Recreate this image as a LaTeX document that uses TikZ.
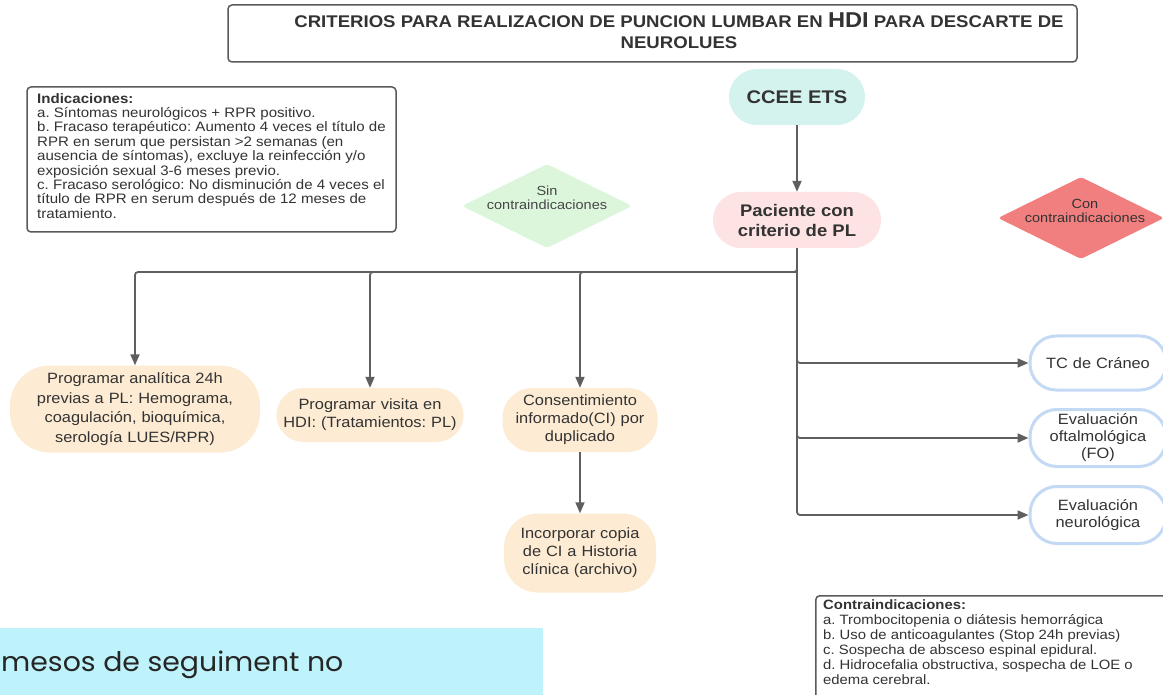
\documentclass[tikz,border=0pt]{standalone}
\usepackage{fontspec}
\setmainfont{Liberation Sans}[FakeStretch=1.1]
\newfontfamily\popfont{Poppins}[FakeStretch=1.05]
\usetikzlibrary{arrows.meta,shapes.geometric}
\frenchspacing
\definecolor{linegray}{HTML}{5F5F5F}
\definecolor{txt}{HTML}{333333}
\definecolor{cceefill}{HTML}{D4F3EE}
\definecolor{pacfill}{HTML}{FDE3E3}
\definecolor{sinfill}{HTML}{DCF6DC}
\definecolor{confill}{HTML}{F27F7F}
\definecolor{peach}{HTML}{FDEBD3}
\definecolor{bluebord}{HTML}{C4D9F4}
\definecolor{cyanbox}{HTML}{BEF3FB}
\definecolor{boxbord}{HTML}{5A5A5A}
\tikzset{
  conn/.style={draw=linegray, line width=1.8pt, rounded corners=3pt, -{Triangle[length=11pt,width=9pt]}},
  pill/.style={rectangle, rounded corners=#1, inner sep=0pt, align=center, text=txt},
  peachnode/.style={pill=#1, fill=peach},
  bluenode/.style={pill=#1, draw=bluebord, line width=3pt, fill=white},
  ntext/.style={font=\frenchspacing\fontsize{14.9}{18}\selectfont},
  dtext/.style={font=\fontsize{13.2}{14.5}\selectfont, align=center, text=txt!90},
  framebox/.style={draw=boxbord, line width=1.5pt, rounded corners=4pt, inner sep=0pt},
}
\begin{document}
\begin{tikzpicture}[x=1pt,y=-1pt]
\useasboundingbox (0,0) rectangle (1163,695);
\clip (0,0) rectangle (1163,695);
\fill[white] (0,0) rectangle (1163,695);

% title
\node[framebox, minimum width=849pt, minimum height=57pt] (titlebox) at (652.5,33.5) {};
\node[align=center, text=txt, font=\bfseries\fontsize{16.9}{21}\selectfont] (title) at (679,31)
  {CRITERIOS PARA REALIZACION DE PUNCION LUMBAR EN {\fontsize{21.5}{21}\selectfont HDI} PARA DESCARTE DE\\NEUROLUES};

% indications
\node[framebox, minimum width=369pt, minimum height=145pt] (ind) at (211.5,159.5) {};
\node[anchor=north west, align=left, inner sep=0pt, text=txt,
  font=\frenchspacing\fontsize{13.7}{14.4}\selectfont] (indtext) at (37,93)
  {\textbf{Indicaciones:}\\
   a. Síntomas neurológicos + RPR positivo.\\
   b. Fracaso terapéutico: Aumento 4 veces el título de\\
   RPR en serum que persistan >2 semanas (en\\
   ausencia de síntomas), excluye la reinfección y/o\\
   exposición sexual 3-6 meses previo.\\
   c. Fracaso serológico: No disminución de 4 veces el\\
   título de RPR en serum después de 12 meses de\\
   tratamiento.};

% main flow nodes
\node[pill=28pt, fill=cceefill, minimum width=136pt, minimum height=56pt,
  font=\bfseries\fontsize{18.3}{20}\selectfont] (ccee) at (797,97) {CCEE ETS};
\node[pill=28pt, fill=pacfill, minimum width=168pt, minimum height=56pt,
  font=\bfseries\fontsize{16.8}{20}\selectfont] (pac) at (797,220) {Paciente con\\criterio de PL};

% diamonds
\node[diamond, aspect=2.02, fill=sinfill, rounded corners=3pt, minimum width=170pt, minimum height=84pt, inner sep=0pt] (sin) at (547,206) {};
\node[dtext] (sintext) at (547,198) {Sin\\contraindicaciones};
\node[diamond, aspect=2.02, fill=confill, rounded corners=3pt, minimum width=166pt, minimum height=82pt, inner sep=0pt] (con) at (1081,218) {};
\node[dtext, text=txt] (context) at (1085,211) {Con\\contraindicaciones};

% lower left nodes
\node[peachnode=40pt, ntext, minimum width=250pt, minimum height=87pt, text width=230pt,
  font=\fontsize{14.9}{19.5}\selectfont] (nA) at (135,409)
  {Programar analítica 24h\\previas a PL: Hemograma,\\coagulación, bioquímica,\\serología LUES/RPR)};
\node[peachnode=27pt, ntext, minimum width=187pt, minimum height=54pt, text width=185pt] (nB) at (370,415)
  {Programar visita en\\HDI: (Tratamientos: PL)};
\node[peachnode=30pt, ntext, minimum width=155pt, minimum height=64pt, text width=150pt] (nC) at (580,420)
  {Consentimiento\\informado(CI) por\\duplicado};
\node[peachnode=34pt, ntext, minimum width=152pt, minimum height=79pt, text width=150pt] (nD) at (580,553)
  {Incorporar copia\\de CI a Historia\\clínica (archivo)};

% right nodes
\node[bluenode=26pt, ntext, minimum width=136pt, minimum height=54pt, text width=130pt] (tc) at (1098,363)
  {TC de Cráneo};
\node[bluenode=27pt, ntext, minimum width=136pt, minimum height=57pt, text width=130pt,
  font=\fontsize{14.9}{17}\selectfont] (fo) at (1098,438)
  {Evaluación\\oftalmológica\\(FO)};
\node[bluenode=27pt, ntext, minimum width=136pt, minimum height=57pt, text width=130pt,
  font=\fontsize{14.9}{17}\selectfont] (neu) at (1098,515)
  {Evaluación\\neurológica};

% connectors
\coordinate (j) at (797,272);
\draw[conn] (ccee) -- (pac);
\draw[conn] (pac.south) -- (j) -| (nA.north);
\draw[conn] (j) -| (nB.north);
\draw[conn] (j) -| (nC.north);
\draw[conn] (pac.south) |- (tc.west);
\draw[conn] (pac.south) |- (fo.west);
\draw[conn] (pac.south) |- (neu.west);
\draw[conn] (nC) -- (nD);

% contraindications box
\node[framebox, anchor=north west, minimum width=365pt, minimum height=115pt] (cbox) at (815,595) {};
\node[anchor=north west, align=left, inner sep=0pt, text=txt, font=\frenchspacing\fontsize{13.5}{15}\selectfont] (ctext) at (823,600)
  {\textbf{Contraindicaciones:}\\
   a. Trombocitopenia o diátesis hemorrágica\\
   b. Uso de anticoagulantes (Stop 24h previas)\\
   c. Sospecha de absceso espinal epidural.\\
   d. Hidrocefalia obstructiva, sospecha de LOE o\\
   edema cerebral.};

% cyan overlay box
\node[fill=cyanbox, anchor=north west, minimum width=543pt, minimum height=80pt, inner sep=0pt] (cyan) at (0,628) {};
\node[anchor=base west, inner sep=0pt, text=black!85, font=\popfont\fontsize{27}{34}\selectfont] (cyantext) at (1,671)
  {mesos de seguiment no};
\end{tikzpicture}
\end{document}
